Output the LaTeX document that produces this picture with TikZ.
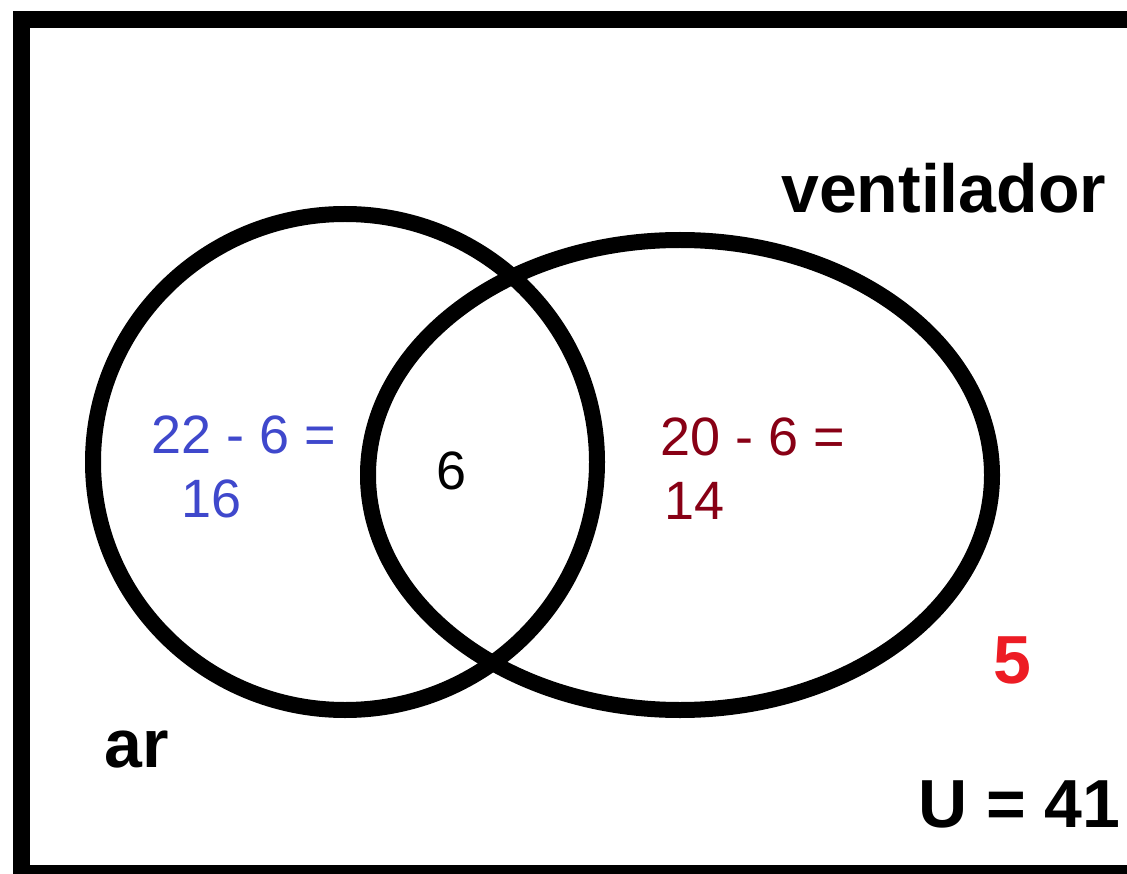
\documentclass[tikz,border=0pt]{standalone}
\usepackage{fontspec}
\setmainfont{Liberation Sans}
\definecolor{pblue}{HTML}{3F48CC}
\definecolor{pdred}{HTML}{880015}
\definecolor{pred}{HTML}{ED1C24}
\begin{document}
\begin{tikzpicture}[x=1pt,y=-1pt,
  setline/.style={draw=black,line width=16pt},
  framebox/.style={draw=black,line width=17pt},
  biglabel/.style={inner sep=0pt,anchor=base west,font=\bfseries\fontsize{68}{80}\selectfont},
  numlabel/.style={inner sep=0pt,anchor=base west,font=\fontsize{54}{64}\selectfont}]
\useasboundingbox (0,0) rectangle (1127,874);
\clip (0,0) rectangle (1127,874);
\fill[white] (0,0) rectangle (1127,874);
% frame
\draw[framebox] (21.5,19.5) rectangle (1160,873.5);
% sets
\draw[setline] (345,462) ellipse [x radius=252pt, y radius=248pt];
\draw[setline] (680,475) ellipse [x radius=312pt, y radius=235pt];
% labels
\node[biglabel] (vent) at (781,213) {ventilador};
\node[biglabel] (ar) at (104,767) {ar};
\node[biglabel] (univ) at (918,827) {U = 41};
\node[biglabel,text=pred] (out) at (993,683) {5};
\node[numlabel,text=pblue] (aone) at (151,453) {22 - 6 =};
\node[numlabel,text=pblue] (atwo) at (181,517) {16};
\node[numlabel] (both) at (436,489) {6};
\node[numlabel,text=pdred] (vone) at (660,455) {20 - 6 =};
\node[numlabel,text=pdred] (vtwo) at (664,519) {14};
\end{tikzpicture}
\end{document}
